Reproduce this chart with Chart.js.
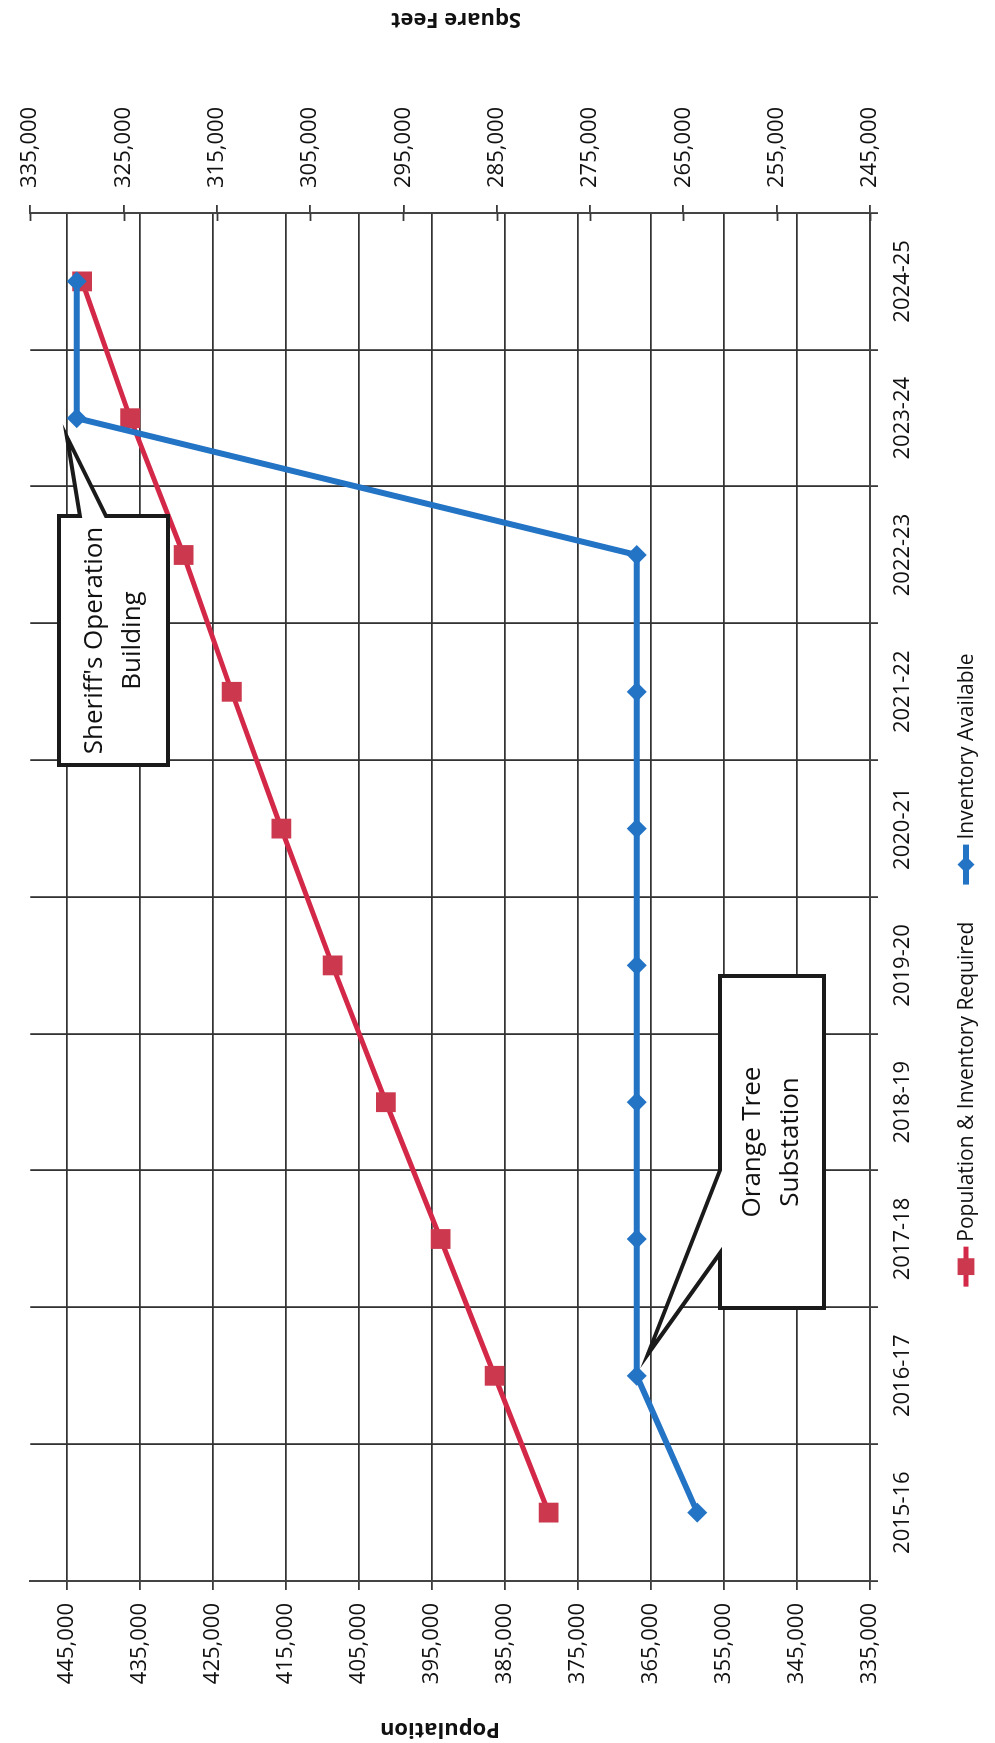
<!DOCTYPE html>
<html>
<head>
<meta charset="utf-8">
<title>Population and Inventory</title>
<script src="https://cdn.jsdelivr.net/npm/chart.js@4.4.1/dist/chart.umd.min.js"></script>
<style>
  html, body { margin: 0; padding: 0; background: #ffffff; }
  body { width: 995px; height: 1743px; overflow: hidden; position: relative; }
  /* the chart is laid out landscape and turned a quarter turn counter-clockwise */
  #wrap {
    position: absolute; left: 0; top: 0;
    width: 1743px; height: 995px;
    transform-origin: 0 0;
    transform: translate(0, 1743px) rotate(-90deg);
  }
  canvas { display: block; }
</style>
</head>
<body>
<div id="wrap"><canvas id="chart" width="1743" height="995"></canvas></div>
<script>
// Fiscal years on the category axis
const categories = ['2015-16', '2016-17', '2017-18', '2018-19', '2019-20',
                    '2020-21', '2021-22', '2022-23', '2023-24', '2024-25'];

// Population & Inventory Required (left axis, population)
const populationRequired = [379000, 386400, 393800, 401300, 408600,
                            415600, 422400, 429000, 436300, 442900];

// Inventory Available (right axis, square feet)
const inventoryAvailable = [263500, 270000, 270000, 270000, 270000,
                            270000, 270000, 270000, 330000, 330000];

// Tick values of both value axes
const populationTicks = [335000, 345000, 355000, 365000, 375000, 385000,
                         395000, 405000, 415000, 425000, 435000, 445000];
const squareFeetTicks = [245000, 255000, 265000, 275000, 285000,
                         295000, 305000, 315000, 325000, 335000];

const seriesNames = ['Population & Inventory Required', 'Inventory Available'];
const axisTitles = ['Population', 'Square Feet'];
const calloutTexts = [["Sheriff's Operation", 'Building'], ['Orange Tree', 'Substation']];

const FONT = '"Open Sans", "Noto Sans", Arial, sans-serif';
const RED = 'rgb(212, 40, 72)';
const RED_MARK = 'rgb(204, 56, 78)';
const BLUE = 'rgb(36, 116, 198)';
const GRID = '#333333';
const INK = '#111111';

const fmt = v => Number(v).toLocaleString('en-US');

// Callout shapes, in canvas pixels: rectangle plus a wedge pointing at a point
function drawCallout(ctx, path, box, lines) {
  ctx.save();
  ctx.beginPath();
  ctx.moveTo(path[0][0], path[0][1]);
  for (let i = 1; i < path.length; i++) ctx.lineTo(path[i][0], path[i][1]);
  ctx.closePath();
  ctx.fillStyle = '#ffffff';
  ctx.fill();
  ctx.lineWidth = 4;
  ctx.lineJoin = 'miter';
  ctx.strokeStyle = '#1a1a1a';
  ctx.stroke();
  ctx.fillStyle = INK;
  ctx.font = '26px ' + FONT;
  ctx.textAlign = 'center';
  ctx.textBaseline = 'middle';
  const cx = (box.x0 + box.x1) / 2;
  const cy = (box.y0 + box.y1) / 2;
  const lh = 38;
  lines.forEach((t, i) => {
    ctx.fillText(t, cx, cy + (i - (lines.length - 1) / 2) * lh);
  });
  ctx.restore();
}

const decorations = {
  id: 'decorations',
  beforeDatasetsDraw(chart) {
    // tick marks of the square-feet axis also cross into the plot
    const ctx = chart.ctx;
    const s = chart.scales.y2;
    const right = chart.chartArea.right;
    ctx.save();
    ctx.strokeStyle = '#3a3a3a';
    ctx.lineWidth = 1.8;
    s.ticks.forEach(t => {
      const y = Math.round(s.getPixelForValue(t.value)) + 0.5;
      ctx.beginPath();
      ctx.moveTo(right - 8, y);
      ctx.lineTo(right, y);
      ctx.stroke();
    });
    ctx.restore();
  },
  afterDraw(chart) {
    const ctx = chart.ctx;
    const area = chart.chartArea;

    // axis titles (both read upward)
    ctx.save();
    ctx.fillStyle = INK;
    ctx.font = 'bold 22px ' + FONT;
    ctx.textAlign = 'center';
    ctx.textBaseline = 'middle';
    ctx.translate(14, 440);
    ctx.rotate(-Math.PI / 2);
    ctx.fillText(axisTitles[0], 0, 0);
    ctx.restore();

    ctx.save();
    ctx.fillStyle = INK;
    ctx.font = 'bold 22px ' + FONT;
    ctx.textAlign = 'center';
    ctx.textBaseline = 'middle';
    ctx.translate(1724, 456);
    ctx.rotate(-Math.PI / 2);
    ctx.fillText(axisTitles[1], 0, 0);
    ctx.restore();

    // legend, built from the datasets' own styles
    ctx.save();
    ctx.font = '21px ' + FONT;
    ctx.textBaseline = 'middle';
    ctx.textAlign = 'left';
    const lineLen = 40, gapText = 5, gapItem = 37;
    const ds = chart.data.datasets;
    const widths = ds.map(d => ctx.measureText(d.label).width);
    let total = 0;
    ds.forEach((d, i) => { total += lineLen + gapText + widths[i]; });
    total += gapItem * (ds.length - 1);
    let x = 773 - total / 2;
    const y = 966;
    ds.forEach((d, i) => {
      ctx.strokeStyle = d.borderColor;
      ctx.lineWidth = d.borderWidth;
      ctx.beginPath();
      ctx.moveTo(x, y);
      ctx.lineTo(x + lineLen, y);
      ctx.stroke();
      ctx.fillStyle = d.pointBackgroundColor;
      ctx.strokeStyle = d.pointBackgroundColor;
      Chart.helpers.drawPoint(ctx, {
        pointStyle: d.pointStyle, rotation: 0,
        radius: d.pointRadius * 0.85, borderWidth: 0
      }, x + lineLen / 2, y);
      ctx.fillStyle = INK;
      ctx.fillText(d.label, x + lineLen + gapText, y + 1);
      x += lineLen + gapText + widths[i] + gapItem;
    });
    ctx.restore();

    // callouts
    const b1 = { x0: 978, x1: 1227, y0: 59, y1: 168 };
    drawCallout(ctx, [
      [b1.x0, b1.y0], [b1.x1, b1.y0], [b1.x1, 80], [1306, 67], [b1.x1, 106],
      [b1.x1, b1.y1], [b1.x0, b1.y1]
    ], b1, calloutTexts[0]);

    const b2 = { x0: 435, x1: 767, y0: 720, y1: 824 };
    drawCallout(ctx, [
      [b2.x0, b2.y0], [490, b2.y0], [389, 648], [573, b2.y0], [b2.x1, b2.y0],
      [b2.x1, b2.y1], [b2.x0, b2.y1]
    ], b2, calloutTexts[1]);
  }
};

const tickFont = { family: FONT, size: 22 };

new Chart(document.getElementById('chart'), {
  type: 'line',
  data: {
    labels: categories,
    datasets: [
      {
        label: seriesNames[0],
        data: populationRequired,
        yAxisID: 'y',
        borderColor: RED,
        borderWidth: 5,
        pointStyle: 'rect',
        pointRadius: 14,
        pointBackgroundColor: RED_MARK,
        pointBorderColor: RED_MARK,
        pointBorderWidth: 0,
        tension: 0,
        order: 1
      },
      {
        label: seriesNames[1],
        data: inventoryAvailable,
        yAxisID: 'y2',
        borderColor: BLUE,
        borderWidth: 6,
        pointStyle: 'rectRot',
        pointRadius: 10,
        pointBackgroundColor: BLUE,
        pointBorderColor: BLUE,
        pointBorderWidth: 0,
        tension: 0,
        order: 0
      }
    ]
  },
  options: {
    responsive: false,
    devicePixelRatio: 1,
    animation: false,
    events: [],
    layout: { padding: { top: 20, left: 0, right: 0, bottom: 0 } },
    plugins: {
      legend: { display: false },
      tooltip: { enabled: false },
      title: { display: false }
    },
    scales: {
      x: {
        type: 'category',
        position: 'bottom',
        offset: true,
        grid: { offset: true, color: GRID, lineWidth: 1.8, tickLength: 8, tickColor: '#3a3a3a' },
        border: { color: '#444444', width: 2 },
        ticks: { font: tickFont, color: INK, padding: 12, maxRotation: 0, autoSkip: false },
        afterFit: s => { s.height = 125; }
      },
      y: {
        type: 'linear',
        position: 'left',
        min: 335000,
        max: 450000,
        afterBuildTicks: s => { s.ticks = populationTicks.map(v => ({ value: v })); },
        grid: { color: GRID, lineWidth: 1.8, tickLength: 9, tickColor: '#3a3a3a' },
        border: { color: '#444444', width: 2 },
        ticks: { font: tickFont, color: INK, padding: 13, autoSkip: false, callback: v => fmt(v) },
        afterFit: s => { s.width = 162; }
      },
      y2: {
        type: 'linear',
        position: 'right',
        min: 245000,
        max: 335000,
        afterBuildTicks: s => { s.ticks = squareFeetTicks.map(v => ({ value: v })); },
        grid: { drawOnChartArea: false, tickLength: 8, lineWidth: 1.8, tickColor: '#3a3a3a' },
        border: { color: '#444444', width: 2 },
        ticks: { font: tickFont, color: INK, padding: 17, autoSkip: false, callback: v => fmt(v) },
        afterFit: s => { s.width = 213; }
      }
    }
  },
  plugins: [decorations]
});
</script>
</body>
</html>
